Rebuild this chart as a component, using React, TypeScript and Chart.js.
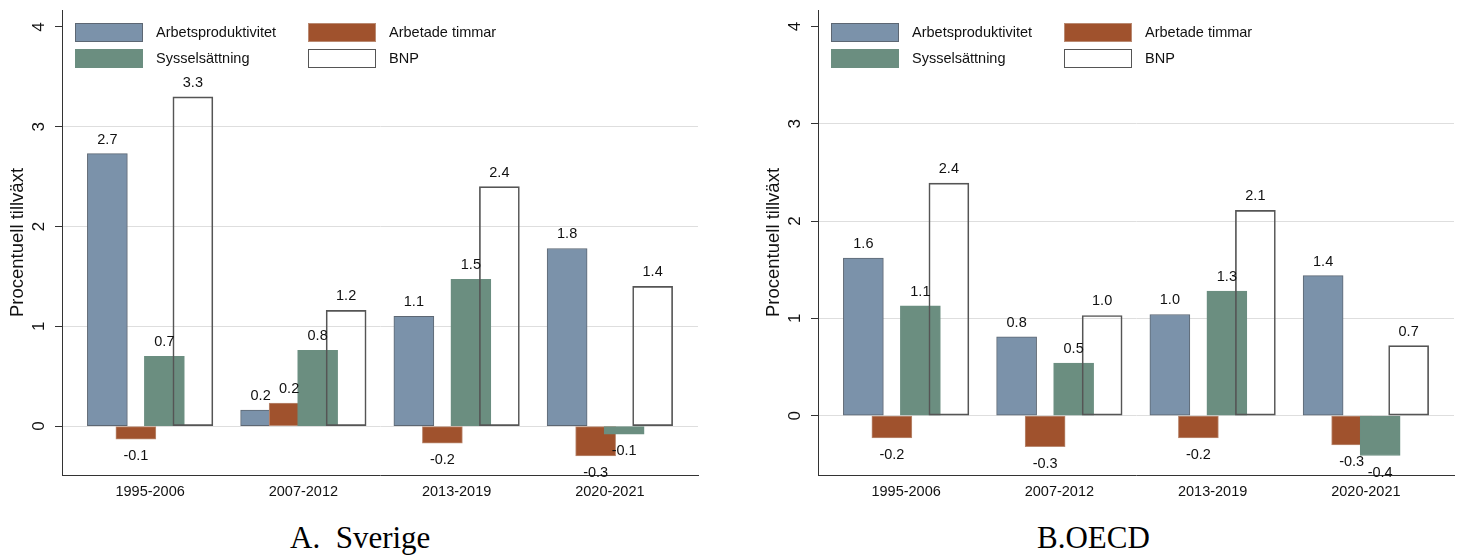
import React, { useEffect, useRef } from "react";
import { Chart, registerables } from "chart.js";

Chart.register(...registerables);

// ---------- data ----------
const categories = ["1995-2006", "2007-2012", "2013-2019", "2020-2021"];
const seriesNames = ["Arbetsproduktivitet", "Arbetade timmar", "Sysselsättning", "BNP"];
const yTickValues = [0, 1, 2, 3, 4];

// Panel A: Sverige
const sverigeProduktivitet = [2.73, 0.16, 1.1, 1.78];
const sverigeTimmar = [-0.13, 0.23, -0.17, -0.3];
const sverigeSysselsattning = [0.7, 0.76, 1.47, -0.08];
const sverigeBNP = [3.3, 1.16, 2.4, 1.4];

// Panel B: OECD
const oecdProduktivitet = [1.62, 0.81, 1.04, 1.44];
const oecdTimmar = [-0.23, -0.32, -0.23, -0.3];
const oecdSysselsattning = [1.13, 0.54, 1.28, -0.41];
const oecdBNP = [2.39, 1.03, 2.11, 0.72];

// ---------- styles ----------
const FONT = '"Liberation Sans", Arial, Helvetica, sans-serif';
const FILLS = ["#7b92aa", "#a0522d", "#6b8e80", "rgba(255,255,255,0)"];
const BORDERS = ["#5d6773", "#ba8a72", "#6b8e80", "#555555"];
const LEGEND_FILLS = ["#7b92aa", "#a0522d", "#6b8e80", "#ffffff"];
const BAR_OFFSETS = [-0.279, -0.093, 0.093, 0.279];
const PLOT_W = 636;
const AXIS_W = 62;
const CANVAS_H = 510;

const valueLabels = {
  id: "valueLabels",
  afterDatasetsDraw(chart: any) {
    const ctx = chart.ctx;
    ctx.save();
    ctx.font = `14.5px ${FONT}`;
    ctx.fillStyle = "#111";
    ctx.textAlign = "center";
    ctx.textBaseline = "middle";
    chart.data.datasets.forEach((ds: any, di: number) => {
      const meta = chart.getDatasetMeta(di);
      meta.data.forEach((el: any, i: number) => {
        const v = ds.data[i].y;
        const y = v >= 0 ? el.y - 14 : el.y + 17;
        ctx.fillText(v.toFixed(1), el.x, y);
      });
    });
    ctx.restore();
  },
};

type PanelProps = {
  left: number;
  width: number;
  yMin: number;
  series: number[][];
};

function BarPanel({ left, width, yMin, series }: PanelProps) {
  const ref = useRef<HTMLCanvasElement>(null);
  useEffect(() => {
    if (!ref.current) return;
    const datasets = series.map((vals, k) => ({
      label: seriesNames[k],
      data: vals.map((v, i) => ({ x: i + BAR_OFFSETS[k], y: v })),
      backgroundColor: FILLS[k],
      borderColor: BORDERS[k],
      borderWidth: 1,
      borderSkipped: false,
      barThickness: 40,
      grouped: false,
      order: 4 - k,
    }));
    const chart = new Chart(ref.current, {
      type: "bar",
      data: { datasets } as any,
      options: {
        animation: false,
        responsive: false,
        maintainAspectRatio: false,
        layout: { padding: { top: 10, right: width - AXIS_W - PLOT_W, left: 0, bottom: 0 } },
        plugins: { legend: { display: false }, tooltip: { enabled: false } },
        scales: {
          x: {
            type: "linear",
            min: -0.575,
            max: 3.575,
            offset: false,
            grid: { display: false, drawTicks: false },
            border: { display: true, color: "#333", width: 1 },
            ticks: {
              padding: 8,
              color: "#111",
              font: { family: FONT, size: 14.5 },
              callback: (v: any) => categories[Math.round(Number(v))] ?? "",
            },
            afterBuildTicks: (scale: any) => {
              scale.ticks = categories.map((_, i) => ({ value: i }));
            },
            afterFit: (scale: any) => {
              scale.height = CANVAS_H - 475;
              scale.paddingLeft = 0;
              scale.paddingRight = 0;
            },
          },
          y: {
            type: "linear",
            min: yMin,
            max: 4.17,
            grid: {
              color: (c: any) => (c.tick && c.tick.value === 4 ? "rgba(0,0,0,0)" : "#dedede"),
              lineWidth: 1,
              tickColor: "#333",
              tickLength: 7,
              drawTicks: true,
            },
            border: { display: true, color: "#333", width: 1 },
            ticks: {
              minRotation: 90,
              maxRotation: 90,
              crossAlign: "center",
              padding: 11,
              color: "#111",
              font: { family: FONT, size: 17 },
              callback: (v: any) => String(v),
            },
            afterBuildTicks: (scale: any) => {
              scale.ticks = yTickValues.map((v) => ({ value: v }));
            },
            afterFit: (scale: any) => {
              scale.width = AXIS_W;
              scale.paddingTop = 0;
              scale.paddingBottom = 0;
            },
            title: {
              display: true,
              text: "Procentuell tillväxt",
              color: "#111",
              font: { family: FONT, size: 18.5 },
              padding: { top: 7, bottom: 0 },
            },
          },
        },
      } as any,
      plugins: [valueLabels],
    });
    return () => chart.destroy();
  }, []);

  const legendItem = (k: number, x: number, y: number) => (
    <React.Fragment key={k}>
      <div
        style={{
          position: "absolute",
          left: x,
          top: y,
          width: 68,
          height: 19,
          boxSizing: "border-box",
          background: LEGEND_FILLS[k],
          border: `1px solid ${BORDERS[k]}`,
        }}
      />
      <div
        style={{
          position: "absolute",
          left: x + 81,
          top: y,
          height: 19,
          lineHeight: "19px",
          fontFamily: FONT,
          fontSize: 14.5,
          color: "#111",
          whiteSpace: "nowrap",
        }}
      >
        {seriesNames[k]}
      </div>
    </React.Fragment>
  );

  return (
    <div style={{ position: "absolute", left, top: 0, width, height: CANVAS_H }}>
      <canvas ref={ref} width={width} height={CANVAS_H} style={{ width, height: CANVAS_H, display: "block" }} />
      {legendItem(0, AXIS_W + 13, 23)}
      {legendItem(1, AXIS_W + 246, 23)}
      {legendItem(2, AXIS_W + 13, 49)}
      {legendItem(3, AXIS_W + 246, 49)}
    </div>
  );
}

export default function App() {
  const titleStyle: React.CSSProperties = {
    position: "absolute",
    top: 522,
    fontFamily: '"Liberation Serif", "Times New Roman", serif',
    fontSize: 31,
    lineHeight: "31px",
    color: "#000",
    whiteSpace: "pre",
  };
  return (
    <div
      style={{
        position: "fixed",
        left: 0,
        top: 0,
        width: 1461,
        height: 557,
        background: "#fff",
        overflow: "hidden",
      }}
    >
      <BarPanel
        left={0}
        width={730}
        yMin={-0.49}
        series={[sverigeProduktivitet, sverigeTimmar, sverigeSysselsattning, sverigeBNP]}
      />
      <BarPanel
        left={756}
        width={705}
        yMin={-0.61}
        series={[oecdProduktivitet, oecdTimmar, oecdSysselsattning, oecdBNP]}
      />
      <div style={{ ...titleStyle, left: 290 }}>{"A.  Sverige"}</div>
      <div style={{ ...titleStyle, left: 1037 }}>{"B.OECD"}</div>
    </div>
  );
}
